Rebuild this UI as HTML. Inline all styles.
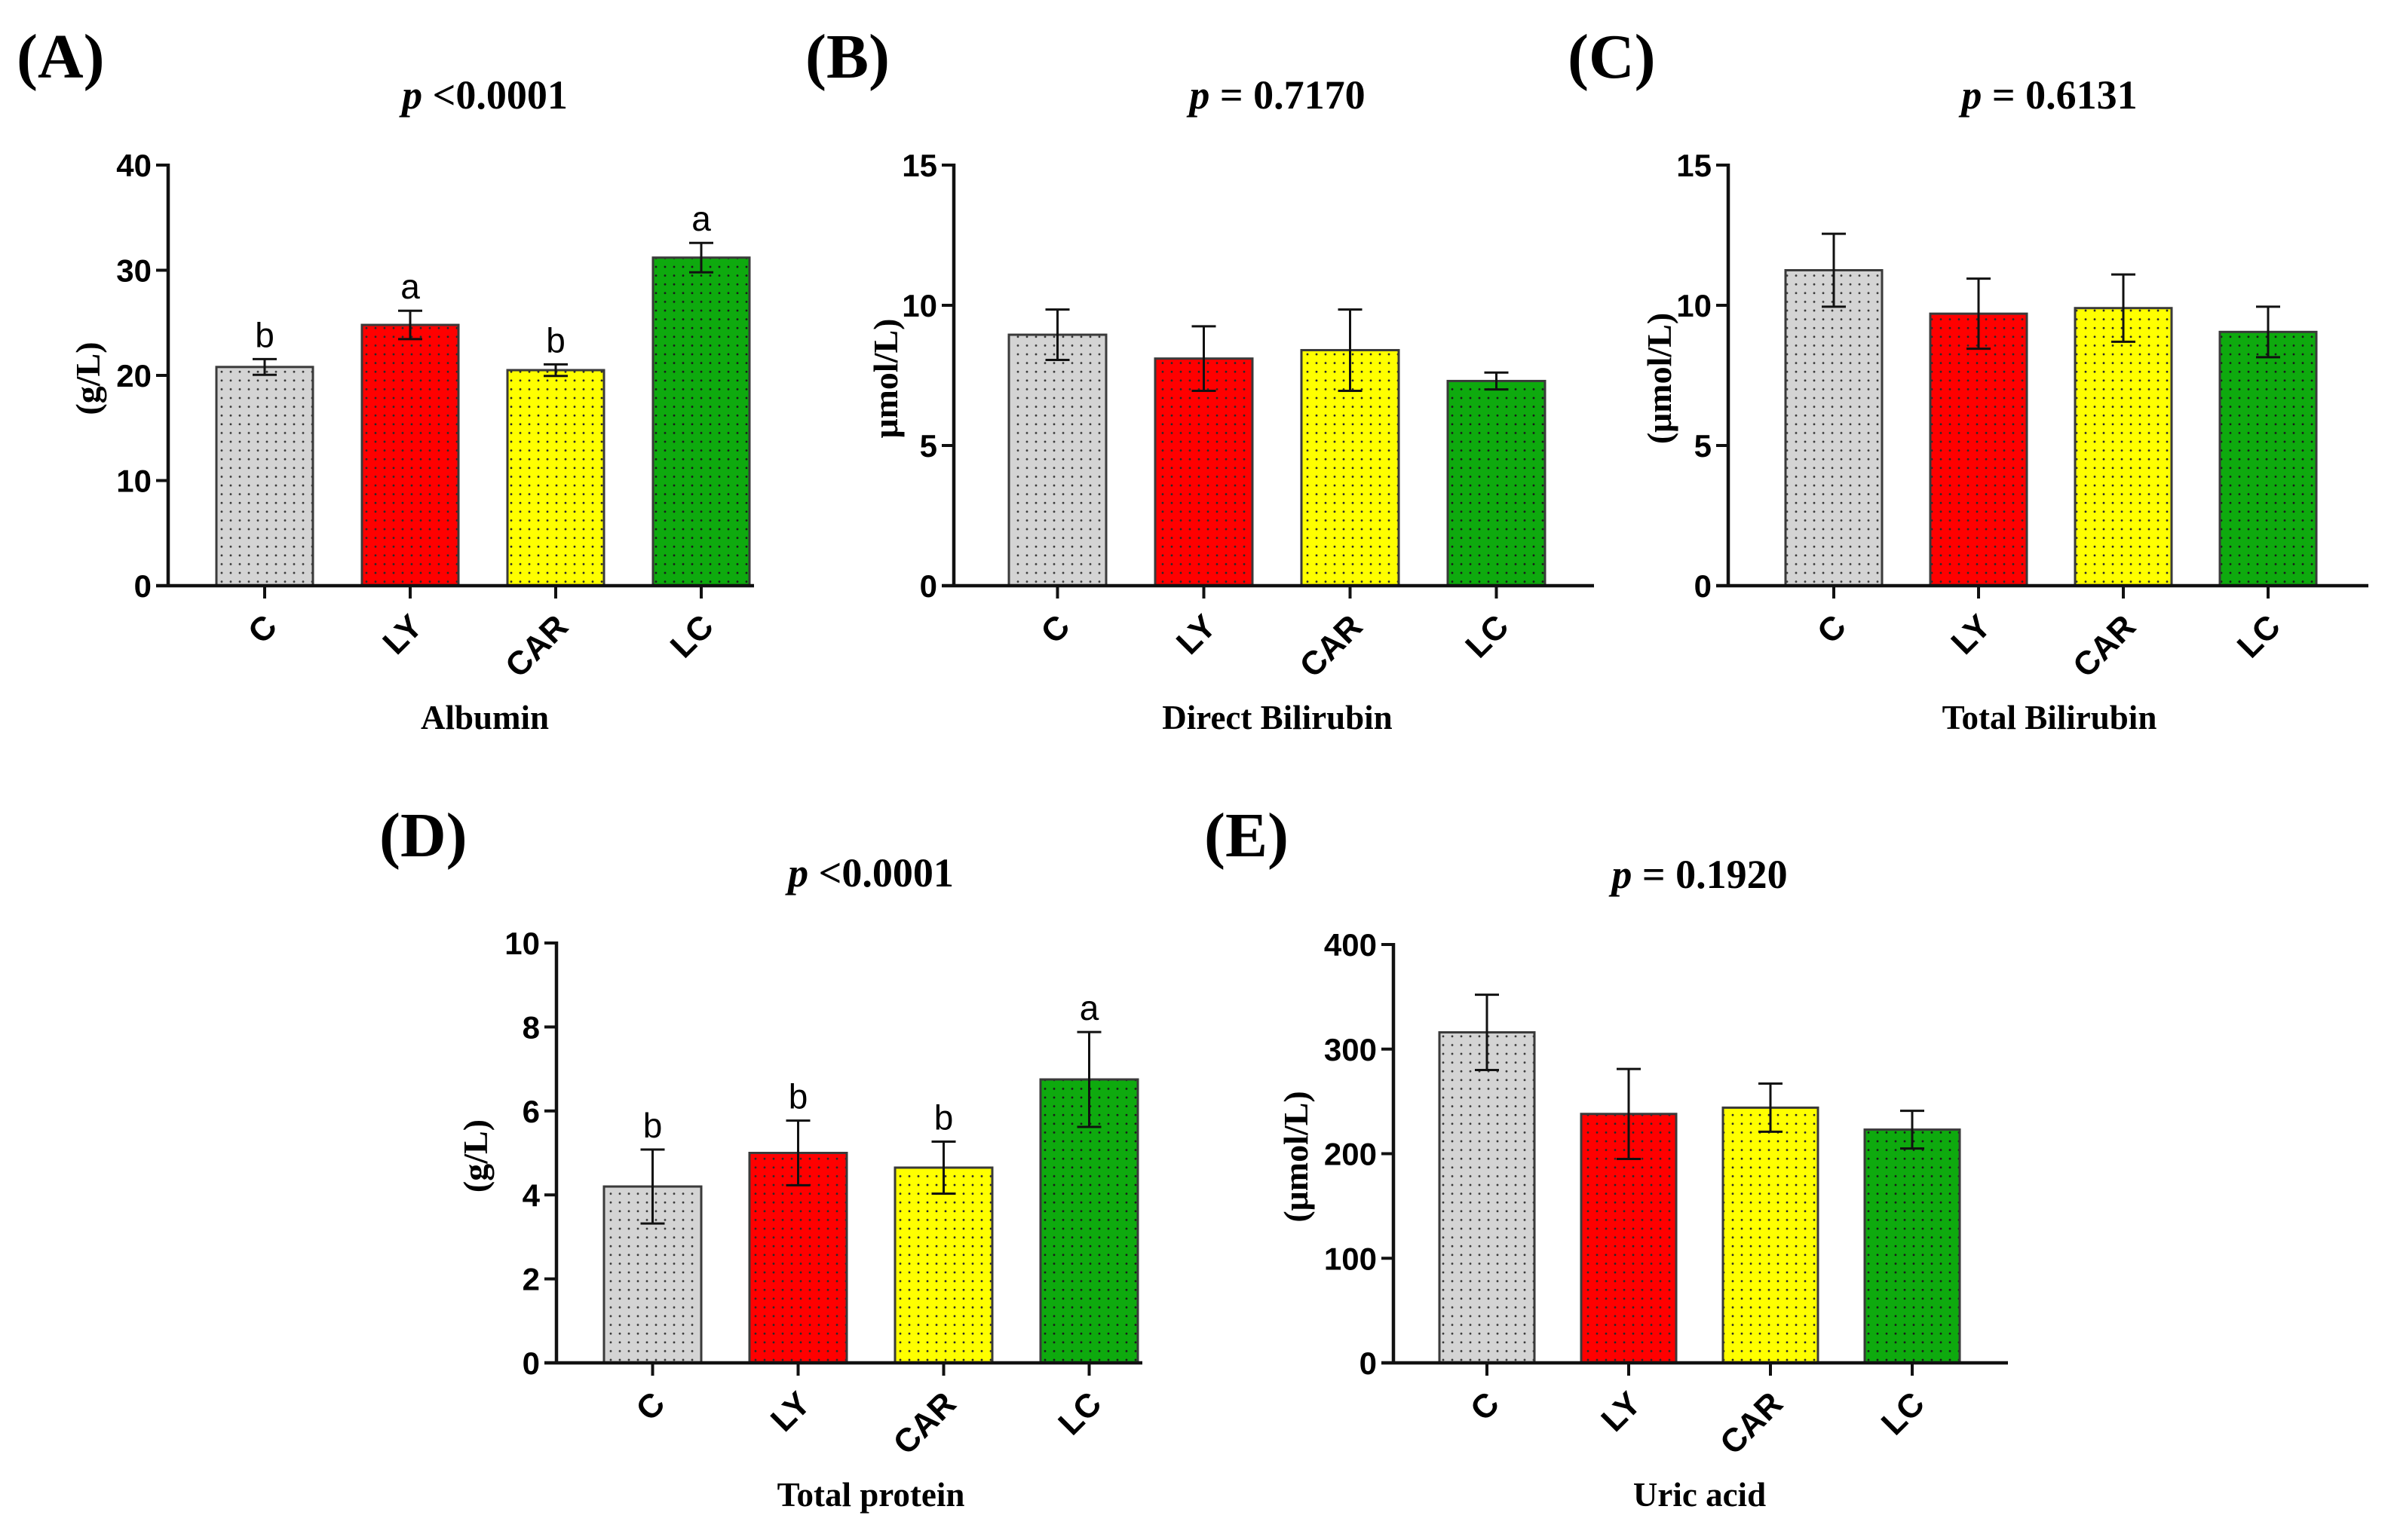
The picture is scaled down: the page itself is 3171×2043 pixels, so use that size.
<!DOCTYPE html>
<html><head><meta charset="utf-8"><style>
html,body{margin:0;padding:0;background:#fff;}
svg{display:block;}
</style></head><body>
<svg id="fig" xmlns="http://www.w3.org/2000/svg" width="3171" height="2043" viewBox="0 0 3171 2043">
<defs>
<pattern id="pg" patternUnits="userSpaceOnUse" width="12" height="11.6"><rect width="12" height="11.6" fill="#d4d4d4"/><circle cx="6" cy="6" r="1.4" fill="#3a3a3a"/></pattern>
<pattern id="pr" patternUnits="userSpaceOnUse" width="12" height="11.6"><rect width="12" height="11.6" fill="#ff0000"/><circle cx="6" cy="6" r="1.4" fill="#2a2a2a"/></pattern>
<pattern id="py" patternUnits="userSpaceOnUse" width="12" height="11.6"><rect width="12" height="11.6" fill="#ffff00"/><circle cx="6" cy="6" r="1.4" fill="#2a2a2a"/></pattern>
<pattern id="pgr" patternUnits="userSpaceOnUse" width="12" height="11.6"><rect width="12" height="11.6" fill="#0eaa0e"/><circle cx="6" cy="6" r="1.4" fill="#1a1a1a"/></pattern>
</defs>
</svg>
<script>
const categories = ["C","LY","CAR","LC"];
const fills = ["url(#pg)","url(#pr)","url(#py)","url(#pgr)"];

const albuminMean = [20.8, 24.8, 20.5, 31.2];
const albuminErr = [0.75, 1.35, 0.55, 1.4];
const albuminLetters = ["b","a","b","a"];
const albuminTicks = [0,10,20,30,40];

const dbilMean = [8.95, 8.1, 8.4, 7.3];
const dbilErr = [0.9, 1.15, 1.45, 0.3];
const dbilTicks = [0,5,10,15];

const tbilMean = [11.25, 9.7, 9.9, 9.05];
const tbilErr = [1.3, 1.25, 1.2, 0.9];
const tbilTicks = [0,5,10,15];

const tproMean = [4.2, 5.0, 4.65, 6.75];
const tproErr = [0.88, 0.77, 0.62, 1.13];
const tproLetters = ["b","b","b","a"];
const tproTicks = [0,2,4,6,8,10];

const uricMean = [316, 238, 244, 223];
const uricErr = [36, 43, 23, 18];
const uricTicks = [0,100,200,300,400];

const NS = "http://www.w3.org/2000/svg";
const svg = document.getElementById("fig");
function el(tag, attrs, parent, text){
  const e = document.createElementNS(NS, tag);
  for (const k in attrs) e.setAttribute(k, attrs[k]);
  if (text !== undefined) e.textContent = text;
  (parent || svg).appendChild(e);
  return e;
}

function panel(cfg){
  const g = el("g", {});
  
  
  const y0 = cfg.y0, span = cfg.span, max = cfg.ticks[cfg.ticks.length-1];
  const yScale = v => y0 - v / max * span;
  const xLeft = i => cfg.ax + cfg.off + i * cfg.pitch;
  const xCenter = i => xLeft(i) + cfg.bw / 2;

  const pl = el("text", {x: cfg.lx, y: cfg.ly, "font-family": "Liberation Serif, serif", "font-weight": "bold", "font-size": 84}, g, cfg.label);
  
  
  const pt = el("text", {x: cfg.pcx, y: y0 - span - 75, "text-anchor": "middle", "font-family": "Liberation Serif, serif", "font-weight": "bold", "font-size": 54}, g);
  
  
  el("tspan", {"font-style": "italic"}, pt, "p");
  el("tspan", {}, pt, cfg.ptext);

  for (let i = 0; i < categories.length; i++){
    const m = cfg.mean[i], e = cfg.err[i];
    const b = el("rect", {x: xLeft(i), y: yScale(m), width: cfg.bw, height: y0 - yScale(m), fill: fills[i], stroke: "#3a3a3a", "stroke-width": 3}, g);
    
    
    const cx = xCenter(i);
    const eb = el("path", {d: `M${cx},${yScale(m-e)}V${yScale(m+e)}M${cx-16},${yScale(m+e)}H${cx+16}M${cx-16},${yScale(m-e)}H${cx+16}`, stroke: "#111", "stroke-width": 3, fill: "none"}, g);
    
    
    if (cfg.letters){
      const lt = el("text", {x: cx, y: yScale(m+e) - 16, "text-anchor": "middle", "font-family": "Liberation Sans, sans-serif", "font-size": 46}, g, cfg.letters[i]);
      
      
    }
    const xt = el("line", {x1: cx, x2: cx, y1: y0, y2: y0 + 17, stroke: "#111", "stroke-width": 4}, g);
    
    
    const tx = cx + 8, ty = y0 + 46;
    const cl = el("text", {x: tx, y: ty, dy: "0.35em", "text-anchor": "end", transform: `rotate(-45 ${tx} ${ty})`, "font-family": "Liberation Sans, sans-serif", "font-weight": "bold", "font-size": 44}, g, categories[i]);
    
    
  }

  const ya = el("line", {x1: cfg.ax, x2: cfg.ax, y1: y0 + 2, y2: y0 - span - 2, stroke: "#111", "stroke-width": 4.5}, g);
  
  
  const xa = el("line", {x1: cfg.ax - 16, x2: cfg.end, y1: y0, y2: y0, stroke: "#111", "stroke-width": 4.5}, g);
  
  
  cfg.ticks.forEach(t => {
    const y = yScale(t);
    const tk = el("line", {x1: cfg.ax - 16, x2: cfg.ax, y1: y, y2: y, stroke: "#111", "stroke-width": 4}, g);
    
    
    const tl = el("text", {x: cfg.ax - 22, y: y, dy: "0.36em", "text-anchor": "end", "font-family": "Liberation Sans, sans-serif", "font-weight": "bold", "font-size": 42}, g, String(t));
    
    
  });
  const yx = cfg.yx, yy = y0 - span / 2 + 4;
  const yt = el("text", {x: yx, y: yy, "text-anchor": "middle", transform: `rotate(-90 ${yx} ${yy})`, "font-family": "Liberation Serif, serif", "font-weight": "bold", "font-size": 46}, g, cfg.ytitle);
  
  
  const xtl = el("text", {x: cfg.pcx, y: y0 + 190, "text-anchor": "middle", "font-family": "Liberation Serif, serif", "font-weight": "bold", "font-size": 45}, g, cfg.xtitle);
  
  
}

panel({name:"albumin", label:"(A)", lx:22, ly:103, ptext:" <0.0001", pcx:643, ax:223, off:64, pitch:193, bw:128, end:1000, y0:777, span:558, ticks:albuminTicks, mean:albuminMean, err:albuminErr, letters:albuminLetters, ytitle:"(g/L)", yx:132, xtitle:"Albumin"});
panel({name:"direct-bilirubin", label:"(B)", lx:1068, ly:103, ptext:" = 0.7170", pcx:1694, ax:1265, off:73, pitch:194, bw:129, end:2114, y0:777, span:558, ticks:dbilTicks, mean:dbilMean, err:dbilErr, ytitle:"μmol/L)", yx:1190, xtitle:"Direct Bilirubin"});
panel({name:"total-bilirubin", label:"(C)", lx:2079, ly:103, ptext:" = 0.6131", pcx:2718, ax:2292, off:76, pitch:192, bw:128, end:3141, y0:777, span:558, ticks:tbilTicks, mean:tbilMean, err:tbilErr, ytitle:"(μmol/L)", yx:2216, xtitle:"Total Bilirubin"});
panel({name:"total-protein", label:"(D)", lx:503, ly:1136, ptext:" <0.0001", pcx:1155, ax:738, off:63, pitch:193, bw:129, end:1515, y0:1808, span:557, ticks:tproTicks, mean:tproMean, err:tproErr, letters:tproLetters, ytitle:"(g/L)", yx:646, xtitle:"Total protein"});
panel({name:"uric-acid", label:"(E)", lx:1597, ly:1136, ptext:" = 0.1920", pcx:2254, ax:1848, off:61, pitch:188, bw:126, end:2663, y0:1808, span:555, ticks:uricTicks, mean:uricMean, err:uricErr, ytitle:"(μmol/L)", yx:1734, xtitle:"Uric acid"});
</script>
</body></html>
